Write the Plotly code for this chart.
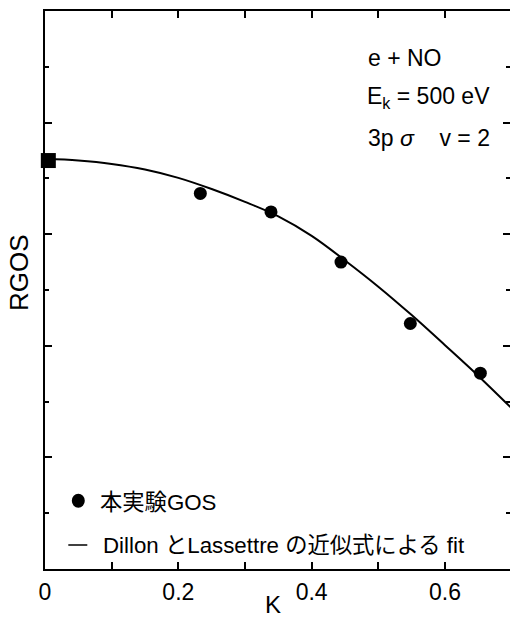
import plotly.graph_objects as go

# Momentum transfer K (a.u.) and relative generalized oscillator strength
exp_k = [0.233, 0.339, 0.444, 0.548, 0.653]
exp_rgos = [0.673, 0.640, 0.550, 0.440, 0.351]

# Optical limit point
opt_k = [0.005]
opt_rgos = [0.732]

# Dillon-Lassettre fit curve
fit_k = [0.0, 0.05, 0.10, 0.15, 0.20, 0.25, 0.30, 0.35, 0.40, 0.45, 0.50, 0.55, 0.60, 0.65, 0.70]
fit_rgos = [0.735, 0.732, 0.726, 0.716, 0.701, 0.681, 0.658, 0.632, 0.597, 0.553,
            0.506, 0.455, 0.401, 0.346, 0.288]

x_tickvals = [0, 0.2, 0.4, 0.6]
x_ticktext = ["0", "0.2", "0.4", "0.6"]

W, H = 510, 619
L, R, T, B = 45, 510, 11, 569

LATIN = "Liberation Sans, Arial, Helvetica, sans-serif"
MIXED = "Liberation Sans, Arial, Noto Sans CJK JP, sans-serif"


def px(x):
    return (x - L) / (R - L)


def py(y):
    return (B - y) / (B - T)


fig = go.Figure()

fig.add_trace(go.Scatter(
    x=fit_k, y=fit_rgos, mode="lines", line=dict(color="black", width=2, shape="spline"),
    showlegend=False, hoverinfo="skip"))

fig.add_trace(go.Scatter(
    x=exp_k, y=exp_rgos, mode="markers",
    marker=dict(symbol="circle", size=13, color="black"), showlegend=False))

fig.add_trace(go.Scatter(
    x=opt_k, y=opt_rgos, mode="markers", yaxis="y2",
    marker=dict(symbol="square", size=15, color="black"), showlegend=False, cliponaxis=False))

tick_font = dict(family=LATIN, size=23, color="black")

fig.update_layout(
    width=W, height=H,
    margin=dict(l=L, r=W - R, t=T, b=H - B, pad=0),
    paper_bgcolor="white", plot_bgcolor="white",
    showlegend=False,
    xaxis=dict(
        range=[0, 0.6975], showgrid=False, zeroline=False,
        showline=True, linecolor="black", linewidth=2, mirror="ticks",
        ticks="inside", ticklen=7, tickwidth=1.5, tickcolor="black",
        tickvals=x_tickvals, ticktext=x_ticktext, tickfont=tick_font,
        ticklabelstandoff=1,
        minor=dict(dtick=0.1, tick0=0, ticks="inside", ticklen=7, tickwidth=1.5, tickcolor="black"),
    ),
    yaxis=dict(
        range=[0, 1], showgrid=False, zeroline=False,
        showline=True, linecolor="black", linewidth=2,
        ticks="inside", ticklen=7, tickwidth=1.5, tickcolor="black",
        dtick=0.2, tick0=0, showticklabels=False,
        minor=dict(dtick=0.1, tick0=0, ticks="inside", ticklen=4, tickwidth=1.5, tickcolor="black"),
    ),
    yaxis2=dict(
        range=[0, 1], overlaying="y", side="right", anchor="x",
        showgrid=False, zeroline=False, showline=False,
        ticks="inside", ticklen=7, tickwidth=1.5, tickcolor="black",
        dtick=0.2, tick0=0, showticklabels=False,
        minor=dict(dtick=0.1, tick0=0, ticks="inside", ticklen=4, tickwidth=1.5, tickcolor="black"),
    ),
)

ann_font = dict(family=LATIN, size=23, color="black")
mixed_font = dict(family=MIXED, size=22.3, color="black")

annotations = [
    dict(text="e + NO", x=px(367), y=py(58.3), font=ann_font, xanchor="left"),
    dict(text="E<sub>k</sub> = 500 eV", x=px(366), y=py(98), font=ann_font, xanchor="left"),
    dict(text="3p <i>σ</i>\u00a0\u00a0\u00a0\u00a0v = 2", x=px(367), y=py(138.3), font=ann_font,
         xanchor="left"),
    dict(text="本実験GOS", x=px(99), y=py(502), font=mixed_font, xanchor="left"),
    dict(text="Dillon とLassettre の近似式による fit", x=px(102), y=py(545.3), font=mixed_font,
         xanchor="left"),
    dict(text="K", x=px(272.5), y=py(604), font=dict(family=LATIN, size=24, color="black"),
         xanchor="center"),
    dict(text="RGOS", x=px(19), y=py(273), textangle=-90,
         font=dict(family=LATIN, size=26, color="black"), xanchor="center"),
]
for a in annotations:
    a.update(xref="paper", yref="paper", showarrow=False, yanchor="middle",
             borderpad=0)
fig.update_layout(annotations=annotations)

# Legend symbols: filled dot and short line segment
fig.add_shape(type="circle", xref="paper", yref="paper", xsizemode="pixel", ysizemode="pixel",
              xanchor=px(78.3), yanchor=py(500.8), x0=-6.5, x1=6.5, y0=-7, y1=7,
              fillcolor="black", line=dict(color="black", width=0))
fig.add_shape(type="line", xref="paper", yref="paper",
              x0=px(68.3), x1=px(87.3), y0=py(545), y1=py(545),
              line=dict(color="black", width=1.5))

fig.write_html("out.html")
